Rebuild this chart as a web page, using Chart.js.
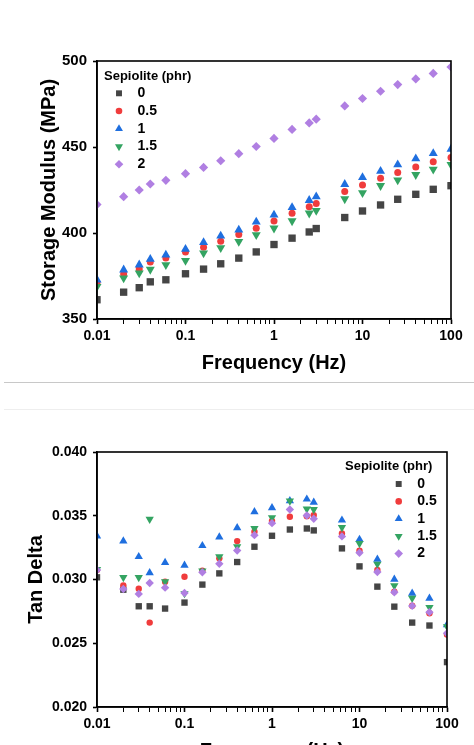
<!DOCTYPE html>
<html>
<head>
<meta charset="utf-8">
<script src="https://cdn.jsdelivr.net/npm/chart.js@4/dist/chart.umd.min.js"></script>
<style>
  body { margin: 0; width: 474px; height: 745px; overflow: hidden; background: #fff; position: relative; }
  canvas { position: absolute; left: 0; }
  #top { top: 0; }
  #bottom { top: 400px; }
  .sep { position: absolute; left: 4px; width: 470px; height: 1px; }
</style>
</head>
<body>
<canvas id="top" width="474" height="382"></canvas>
<div class="sep" style="top:382px;background:#c8c8c8"></div>
<div class="sep" style="top:409px;background:#eeeeee"></div>
<canvas id="bottom" width="474" height="380"></canvas>
<script>
// frequencies (Hz), shared by both plots
const freq = [0.01, 0.02, 0.03, 0.04, 0.06, 0.1, 0.16, 0.25, 0.4, 0.63, 1, 1.6, 2.5, 3, 6.3, 10, 16, 25, 40, 63, 100];

const seriesNames = ['0', '0.5', '1', '1.5', '2'];

// storage modulus (MPa)
const modulus0 = [361.2, 365.6, 368.2, 371.6, 372.8, 376.3, 379.0, 382.1, 385.4, 389.0, 393.3, 397.0, 400.6, 402.6, 409.0, 412.8, 416.3, 419.6, 422.5, 425.4, 427.5];
const modulus05 = [370.9, 376.1, 379.0, 383.2, 385.4, 389.0, 391.7, 395.2, 399.1, 402.8, 407.0, 411.5, 415.3, 417.1, 424.2, 427.9, 431.8, 435.2, 438.3, 441.4, 443.9];
const modulus1 = [372.8, 378.6, 381.5, 384.8, 387.3, 390.6, 394.5, 398.3, 401.8, 406.4, 410.5, 414.9, 419.0, 421.1, 428.3, 432.3, 436.0, 439.7, 443.2, 446.3, 448.8];
const modulus15 = [368.9, 373.8, 376.7, 378.8, 381.5, 384.0, 388.3, 391.4, 395.0, 398.9, 402.8, 407.0, 411.5, 413.0, 419.8, 423.4, 427.5, 430.8, 433.9, 437.0, 439.7];
const modulus2 = [416.5, 421.1, 425.0, 428.5, 430.6, 434.5, 438.1, 442.0, 446.1, 450.3, 455.0, 460.2, 464.0, 466.2, 473.9, 478.2, 482.4, 486.3, 489.6, 492.8, 496.5];

// tan delta
const tan0 = [0.03017, 0.0292, 0.0279, 0.0279, 0.02772, 0.02819, 0.0296, 0.03048, 0.03137, 0.03257, 0.03343, 0.03392, 0.034, 0.03385, 0.03244, 0.03103, 0.02944, 0.02787, 0.02662, 0.02639, 0.02352];
const tan05 = [0.03074, 0.02954, 0.02928, 0.02662, 0.02983, 0.03022, 0.03069, 0.03166, 0.03301, 0.03374, 0.0346, 0.03492, 0.03497, 0.03505, 0.03361, 0.03226, 0.03074, 0.02905, 0.02795, 0.02735, 0.02568];
const tan1 = [0.0334, 0.03301, 0.03179, 0.03053, 0.03132, 0.03111, 0.03265, 0.03332, 0.03405, 0.03531, 0.03562, 0.03617, 0.0363, 0.03606, 0.03465, 0.03314, 0.03158, 0.03001, 0.02892, 0.02853, 0.02644];
const tan15 = [0.0308, 0.03017, 0.03017, 0.03473, 0.02983, 0.0289, 0.03067, 0.03179, 0.03257, 0.034, 0.03486, 0.03617, 0.03554, 0.03549, 0.03408, 0.03283, 0.03121, 0.02952, 0.02853, 0.02782, 0.02631];
const tan2 = [0.03074, 0.02926, 0.02887, 0.02973, 0.02936, 0.02894, 0.03056, 0.03124, 0.03228, 0.03348, 0.03442, 0.03549, 0.03502, 0.03476, 0.03338, 0.0321, 0.03059, 0.029, 0.02793, 0.02744, 0.02579];

// axis ticks
const xMajorTicks = [0.01, 0.1, 1, 10, 100];
const xTickLabels = ['0.01', '0.1', '1', '10', '100'];
const modulusTicks = [350, 400, 450, 500];
const tanTicks = [0.020, 0.025, 0.030, 0.035, 0.040];

const colors = ['#454545', '#f03c3c', '#1f6fdf', '#34a462', '#b07fe2'];
const styles = ['rect', 'circle', 'triangle', 'triangle', 'rectRot'];
const rotations = [0, 0, 0, 180, 0];

const FONT = "'Liberation Sans', Arial, sans-serif";

// log axis ticks: decades plus 2..9 between them
function buildLogTicks() {
  const out = [];
  xMajorTicks.forEach((d, i) => {
    out.push({ value: d, major: true });
    if (i < xMajorTicks.length - 1) {
      for (let k = 2; k <= 9; k++) out.push({ value: d * k, major: false });
    }
  });
  return out;
}

function xLabel(value) {
  const i = xMajorTicks.findIndex(d => Math.abs(Math.log10(d) - Math.log10(value)) < 1e-9);
  return i >= 0 ? xTickLabels[i] : '';
}

// frame around plot area
const framePlugin = {
  id: 'frame',
  afterDatasetsDraw(chart) {
    const a = chart.chartArea, ctx = chart.ctx;
    ctx.save();
    ctx.strokeStyle = '#000';
    ctx.lineWidth = 1.6;
    ctx.strokeRect(a.left, a.top, a.right - a.left, a.bottom - a.top);
    ctx.restore();
  }
};

// legend drawn at fixed spots
const legendRadius = [4.2, 3.3, 4.6, 4.6, 4.3];
const legendPlugin = {
  id: 'sepLegend',
  afterDraw(chart, args, opts) {
    const ctx = chart.ctx;
    ctx.save();
    ctx.fillStyle = '#000';
    ctx.textBaseline = 'middle';
    ctx.textAlign = 'left';
    ctx.font = 'bold 13px ' + FONT;
    ctx.fillText('Sepiolite (phr)', opts.titleX, opts.titleY);
    ctx.font = 'bold 14px ' + FONT;
    seriesNames.forEach((name, i) => {
      const y = opts.rowY + i * opts.rowGap;
      ctx.fillStyle = colors[i];
      Chart.helpers.drawPoint(ctx, {
        pointStyle: styles[i], radius: legendRadius[i],
        rotation: rotations[i], borderWidth: 0
      }, opts.markX, y);
      ctx.fillStyle = '#000';
      ctx.fillText(name, opts.textX, y);
    });
    ctx.restore();
  }
};

function makeDatasets(values, radii) {
  return values.map((vals, i) => ({
    label: seriesNames[i],
    data: freq.map((f, j) => ({ x: f, y: vals[j] })),
    pointStyle: styles[i],
    pointRotation: rotations[i],
    pointRadius: radii[i],
    pointBackgroundColor: colors[i],
    pointBorderWidth: 0,
    order: values.length - i,
    clip: 0
  }));
}

function makeChart(id, cfg) {
  return new Chart(document.getElementById(id), {
    type: 'scatter',
    data: { datasets: makeDatasets(cfg.values, cfg.radii) },
    plugins: [framePlugin, legendPlugin],
    options: {
      responsive: false,
      animation: false,
      devicePixelRatio: 1,
      layout: { padding: cfg.padding },
      plugins: {
        legend: { display: false },
        tooltip: { enabled: false },
        sepLegend: cfg.legend
      },
      scales: {
        x: {
          type: 'logarithmic',
          min: 0.01,
          max: 100,
          afterBuildTicks: s => { s.ticks = buildLogTicks(); },
          afterFit: s => { s.height = cfg.xHeight; },
          border: { display: true, color: '#000', width: 1.6 },
          grid: {
            drawOnChartArea: false,
            tickLength: 5,
            color: '#000',
            tickWidth: c => (c.tick && c.tick.major ? 1.6 : 1)
          },
          ticks: {
            autoSkip: false,
            maxRotation: 0,
            padding: cfg.xPad,
            color: '#000',
            font: { family: FONT, size: 14, weight: 'bold' },
            callback: v => xLabel(v)
          },
          title: {
            display: true,
            text: 'Frequency (Hz)',
            color: '#000',
            font: { family: FONT, size: 20, weight: 'bold' },
            padding: { top: 0, bottom: cfg.xTitlePad }
          }
        },
        y: {
          min: cfg.yTicks[0],
          max: cfg.yTicks[cfg.yTicks.length - 1],
          afterBuildTicks: s => { s.ticks = cfg.yTicks.map(v => ({ value: v })); },
          afterFit: s => { s.width = 97; },
          border: { display: true, color: '#000', width: 1.6 },
          grid: { drawOnChartArea: false, tickLength: 4, color: '#000', tickWidth: 1.6 },
          ticks: {
            padding: 6,
            color: '#000',
            font: { family: FONT, size: cfg.yFont, weight: 'bold' },
            callback: cfg.yFmt
          },
          title: {
            display: true,
            text: cfg.yTitle,
            color: '#000',
            font: { family: FONT, size: 20, weight: 'bold' },
            padding: { top: cfg.yTitlePad, bottom: 0 }
          }
        }
      }
    }
  });
}

makeChart('top', {
  values: [modulus0, modulus05, modulus1, modulus15, modulus2],
  radii: [5.2, 3.5, 5.2, 5.2, 4.6],
  padding: { top: 61, right: 23, bottom: 0, left: 0 },
  xHeight: 63,
  xPad: 4,
  xTitlePad: 7,
  yTicks: modulusTicks,
  yFont: 15,
  yFmt: v => String(v),
  yTitle: 'Storage Modulus (MPa)',
  yTitlePad: 37,
  legend: { titleX: 104, titleY: 76, markX: 119, textX: 137.5, rowY: 93.3, rowGap: 17.75 }
});

makeChart('bottom', {
  values: [tan0, tan05, tan1, tan15, tan2],
  radii: [4.5, 3.2, 4.8, 4.8, 4.2],
  padding: { top: 52, right: 27, bottom: 0, left: 0 },
  xHeight: 73,
  xPad: 4,
  xTitlePad: 17,
  yTicks: tanTicks,
  yFont: 14,
  yFmt: v => Number(v).toFixed(3),
  yTitle: 'Tan Delta',
  yTitlePad: 24,
  legend: { titleX: 345, titleY: 66, markX: 398.7, textX: 417.3, rowY: 84, rowGap: 17.4 }
});
</script>
</body>
</html>
